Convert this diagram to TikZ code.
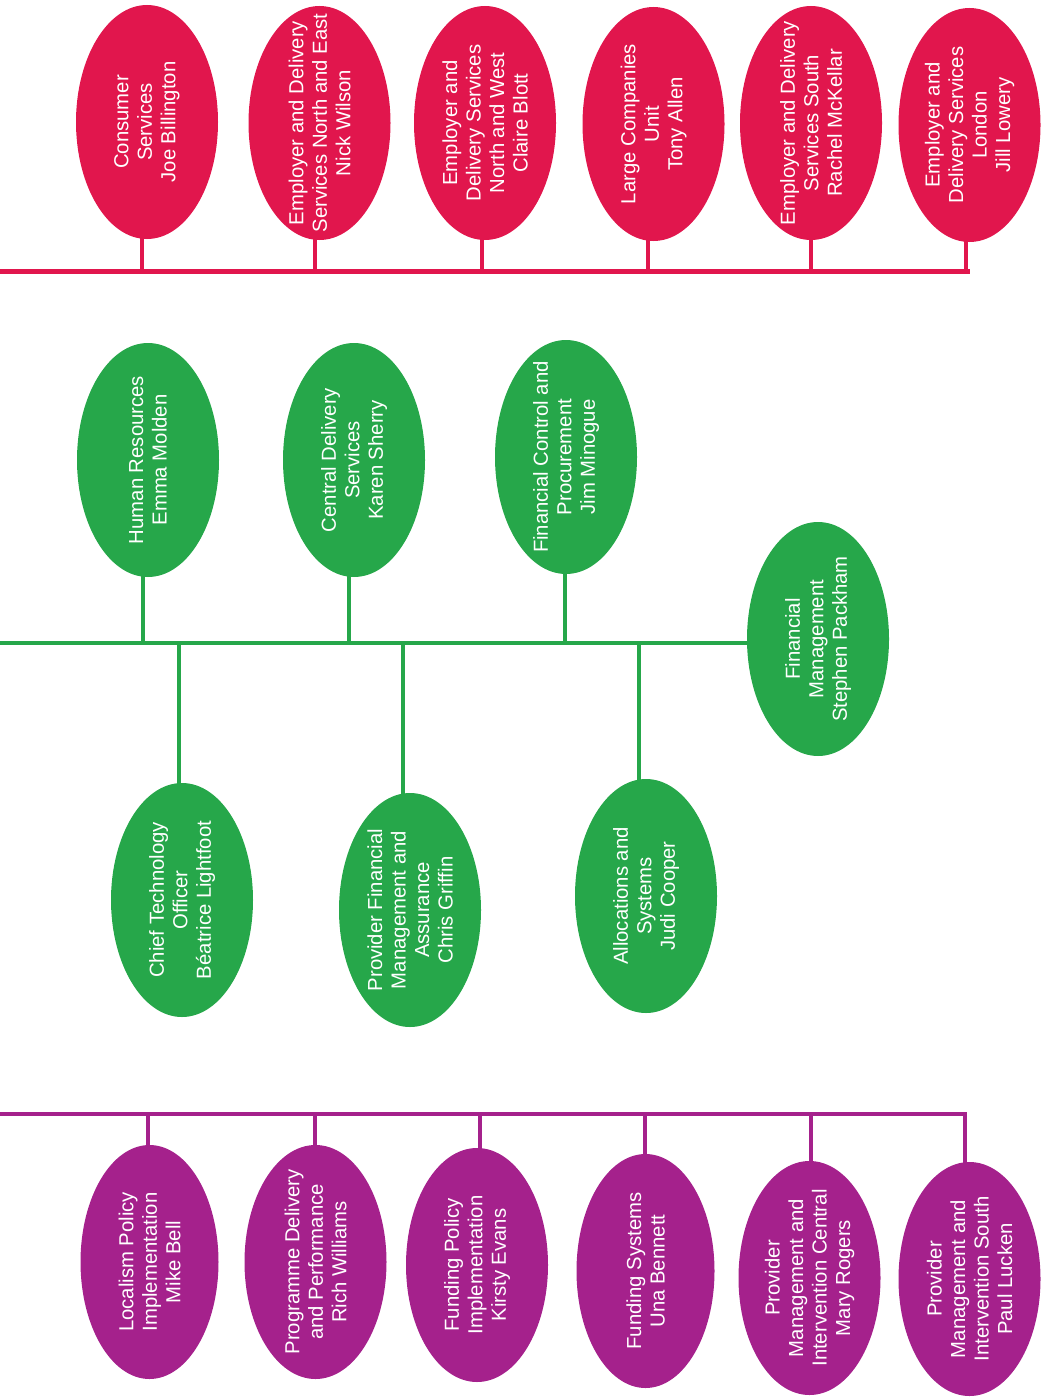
\documentclass[tikz,border=0pt]{standalone}
\usepackage{fontspec}
\setmainfont{Liberation Sans}
\usetikzlibrary{shapes.geometric,backgrounds}
\definecolor{cred}{RGB}{225,22,77}
\definecolor{cgreen}{RGB}{38,167,74}
\definecolor{cpurple}{RGB}{165,33,140}
\begin{document}
\begin{tikzpicture}[x=1pt,y=-1pt,
  ell/.style={ellipse, inner sep=0pt, minimum width=142pt, minimum height=234pt},
  txt/.style={rotate=90, align=center, text=white, font=\fontsize{20.3}{23.5}\selectfont, inner sep=0pt},
  bar/.style={line width=4.5pt},
  stem/.style={line width=4pt}]
\useasboundingbox (0,0) rectangle (1050,1397);

% ---------- red ----------
\node[ell, fill=cred] (r1) at (147,122) {};
\node[txt] at (r1) {Consumer\\Services\\Joe Billington};
\node[ell, fill=cred] (r2) at (319.5,123) {};
\node[txt] at (r2) {Employer and Delivery\\Services North and East\\Nick Wilson};
\node[ell, fill=cred] (r3) at (485,123) {};
\node[txt] at (r3) {Employer and\\Delivery Services\\North and West\\Claire Blott};
\node[ell, fill=cred] (r4) at (653.5,124) {};
\node[txt] at (r4) {Large Companies\\Unit\\Tony Allen};
\node[ell, fill=cred] (r5) at (811,123) {};
\node[txt] at (r5) {Employer and Delivery\\Services South\\Rachel McKellar};
\node[ell, fill=cred] (r6) at (969.5,125) {};
\node[txt] at (r6) {Employer and\\Delivery Services\\London\\Jill Lowery};
\coordinate (rl0) at (0,271.5);
\coordinate (rl1) at (970,271.5);

% ---------- green ----------
\node[ell, fill=cgreen] (g1) at (148,460) {};
\node[txt] at (g1) {Human Resources\\Emma Molden};
\node[ell, fill=cgreen] (g2) at (354,460) {};
\node[txt] at (g2) {Central Delivery\\Services\\Karen Sherry};
\node[ell, fill=cgreen] (g3) at (566,457) {};
\node[txt] at (g3) {Financial Control and\\Procurement\\Jim Minogue};
\node[ell, fill=cgreen] (g4) at (818,639) {};
\node[txt] at (g4) {Financial\\Management\\Stephen Packham};
\node[ell, fill=cgreen] (g5) at (182,900) {};
\node[txt] at (g5) {Chief Technology\\Officer\\Béatrice Lightfoot};
\node[ell, fill=cgreen] (g6) at (410,910) {};
\node[txt] at (g6) {Provider Financial\\Management and\\Assurance\\Chris Griffin};
\node[ell, fill=cgreen] (g7) at (646,896) {};
\node[txt] at (g7) {Allocations and\\Systems\\Judi Cooper};
\coordinate (gl0) at (0,643);

% ---------- purple ----------
\node[ell, fill=cpurple, minimum width=138pt] (p1) at (149.5,1262) {};
\node[txt] at (p1) {Localism Policy\\Implementation\\Mike Bell};
\node[ell, fill=cpurple] (p2) at (315.5,1262) {};
\node[txt] at (p2) {Programme Delivery\\and Performance\\Rich Williams};
\node[ell, fill=cpurple] (p3) at (477,1265) {};
\node[txt] at (p3) {Funding Policy\\Implementation\\Kirsty Evans};
\node[ell, fill=cpurple, minimum width=138pt] (p4) at (645.5,1271) {};
\node[txt] at (p4) {Funding Systems\\Una Bennett};
\node[ell, fill=cpurple] (p5) at (809.5,1278) {};
\node[txt] at (p5) {Provider\\Management and\\Intervention Central\\Mary Rogers};
\node[ell, fill=cpurple] (p6) at (969.5,1279) {};
\node[txt] at (p6) {Provider\\Management and\\Intervention South\\Paul Lucken};
\coordinate (pl0) at (0,1114);
\coordinate (pl1) at (967,1114);

\begin{scope}[on background layer]
  % red bar and stems
  \draw[bar, cred] (rl0) -- (rl1);
  \draw[stem, cred] ([xshift=-5pt]r1.center) -- ([xshift=-5pt]r1.center |- rl0);
  \draw[stem, cred] ([xshift=-4.5pt]r2.center) -- ([xshift=-4.5pt]r2.center |- rl0);
  \draw[stem, cred] ([xshift=-3pt]r3.center) -- ([xshift=-3pt]r3.center |- rl0);
  \draw[stem, cred] ([xshift=-5.5pt]r4.center) -- ([xshift=-5.5pt]r4.center |- rl0);
  \draw[stem, cred] (r5.center) -- (r5.center |- rl0);
  \draw[stem, cred] ([xshift=-3.5pt]r6.center) -- ([xshift=-3.5pt,yshift=-2.25pt]r6.center |- rl0);
  % green bar and stems
  \draw[bar, cgreen] (gl0) -- (gl0 -| g4.center);
  \draw[stem, cgreen] ([xshift=-5pt]g1.center) -- ([xshift=-5pt]g1.center |- gl0);
  \draw[stem, cgreen] ([xshift=-5pt]g2.center) -- ([xshift=-5pt]g2.center |- gl0);
  \draw[stem, cgreen] ([xshift=-1pt]g3.center) -- ([xshift=-1pt]g3.center |- gl0);
  \draw[stem, cgreen] ([xshift=-3pt]g5.center) -- ([xshift=-3pt]g5.center |- gl0);
  \draw[stem, cgreen] ([xshift=-7pt]g6.center) -- ([xshift=-7pt]g6.center |- gl0);
  \draw[stem, cgreen] ([xshift=-7pt]g7.center) -- ([xshift=-7pt]g7.center |- gl0);
  % purple bar and stems
  \draw[bar, cpurple] (pl0) -- (pl1);
  \draw[stem, cpurple] ([xshift=-1.5pt]p1.center) -- ([xshift=-1.5pt]p1.center |- pl0);
  \draw[stem, cpurple] ([xshift=-0.5pt]p2.center) -- ([xshift=-0.5pt]p2.center |- pl0);
  \draw[stem, cpurple] ([xshift=3pt]p3.center) -- ([xshift=3pt]p3.center |- pl0);
  \draw[stem, cpurple] ([xshift=-0.5pt]p4.center) -- ([xshift=-0.5pt]p4.center |- pl0);
  \draw[stem, cpurple] ([xshift=1.5pt]p5.center) -- ([xshift=1.5pt]p5.center |- pl0);
  \draw[stem, cpurple] ([xshift=-4.5pt]p6.center) -- ([xshift=-4.5pt,yshift=2.25pt]p6.center |- pl0);
\end{scope}
\end{tikzpicture}
\end{document}
